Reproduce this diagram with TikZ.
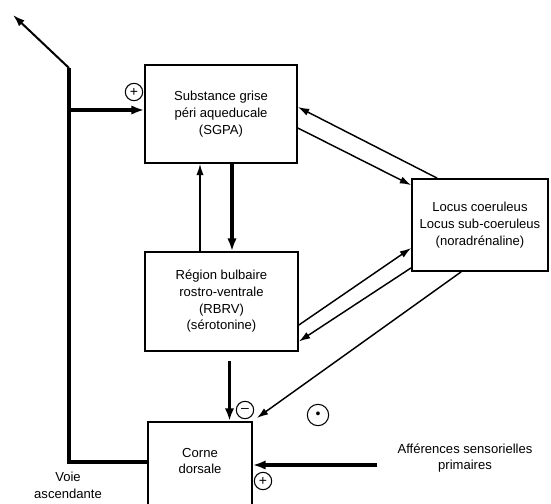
\documentclass[tikz,border=0pt]{standalone}
\usepackage{fontspec}
\setmainfont{Liberation Sans}
\usetikzlibrary{calc,arrows.meta}

\begin{document}
\begin{tikzpicture}[x=0.75pt,y=-0.75pt,
	box/.style={draw,line width=1.3pt,align=center,inner sep=0pt,font=\fontsize{9.8}{12.5}\selectfont},
	txt/.style={align=center,inner sep=0pt,font=\fontsize{9.8}{12.5}\selectfont},
	fort/.style={line width=2.5pt,-{Latex[length=9.5pt,width=7pt]}},
	fin/.style={line width=1.1pt,-{Latex[length=8.5pt,width=5.5pt]}},
	signe/.style={draw,circle,line width=0.8pt,minimum size=13pt,inner sep=0pt,font=\fontsize{10.5}{10.5}\selectfont}]
	
	% ---- (A) frame (pixel units, y downwards) ----
	\useasboundingbox (0,0) rectangle (551,504);
	
	% ---- (B) boxes ----
	\node[box,minimum width=114pt,minimum height=73.5pt] (sgpa) at (221,114)
	{Substance grise\\péri aqueducale\\(SGPA)};
	\node[box,minimum width=114.75pt,minimum height=74.25pt] (rbrv) at (221.5,301.5)
	{Région bulbaire\\rostro-ventrale\\(RBRV)\\(sérotonine)};
	\node[box,minimum width=102pt,minimum height=69pt] (locus) at (480,225)
	{Locus coeruleus\\Locus sub-coeruleus\\(noradrénaline)};
	% bottom edge of the horn lies below the page
	\node[box,minimum width=78pt,minimum height=72pt,anchor=north] (corne) at (200,421) {};
	\node[txt] (cornetxt) at (200,461) {Corne\\dorsale};
	
	% ---- (C) SGPA <-> RBRV ----
	\draw[fort] ($(sgpa.south)+(11,0)$) -- ($(rbrv.north)+(10.5,0)$);
	\draw[fin] ($(rbrv.north)+(-21.5,0)$) -- ($(sgpa.south)+(-21,0)$);
	
	% ---- (D) locus coeruleus links ----
	\draw[fin] ($(locus.north west)+(26,0)$) -- ($(sgpa.east)+(0,-7)$);
	\draw[fin] ($(sgpa.east)+(0,14)$) -- ($(locus.north west)+(0,7)$);
	\draw[fin] ($(rbrv.east)+(0,23.5)$) -- ($(locus.west)+(0,23)$);
	\draw[fin] ($(locus.south west)+(0,-4)$) -- ($(rbrv.east)+(0,40)$);
	\draw[fin] ($(locus.south west)+(50,0)$) -- ($(corne.north east)+(4,-3)$);
	
	% ---- (E) descending control onto the horn ----
	\draw[fort] ($(rbrv.south)+(8,9)$) -- ($(corne.north)+(29.5,0)$);
	
	% primary afferents
	\coordinate (aff) at (377,465);
	\draw[fort] (aff) -- (aff -| corne.east);
	\node[txt] (afftxt) at (465,458) {Afférences sensorielles\\primaires};
	
	% ---- (F) ascending pathway ----
	\coordinate (coin) at (69,68);
	\coordinate (sortie) at (13,15);
	\coordinate (branche) at ($(sgpa.west)+(0,-4)$);
	\draw[line width=2.5pt] ($(corne.north west)+(0,41)$) -| (coin);
	\draw[line width=1.5pt,-{Latex[length=9pt,width=6pt]}] (coin) -- (sortie);
	\draw[fort] (coin |- branche) -- (branche);
	\node[txt] (voie) at (68,485) {Voie\\ascendante};
	
	% ---- (G) signs ----
	\node[signe] (plusa) at (134,92) {+};
	\node[signe] (moins) at (245,410) {–};
	\node[signe,minimum size=16pt] (point) at (318,415) {\textbullet};
	\node[signe] (plusb) at (263,481) {+};
	
\end{tikzpicture}
\end{document}
